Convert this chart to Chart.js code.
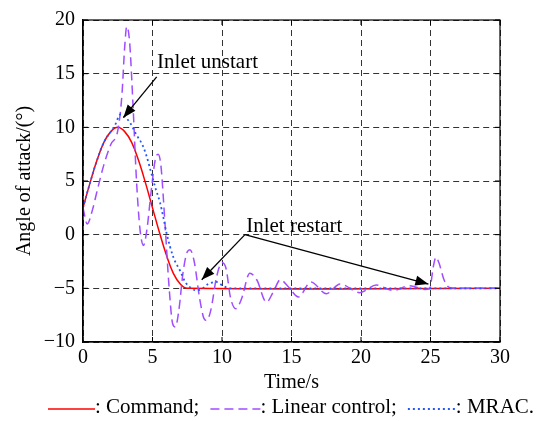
<!DOCTYPE html>
<html>
<head>
<meta charset="utf-8">
<script src="https://cdn.jsdelivr.net/npm/chart.js@4.4.1/dist/chart.umd.min.js"></script>
<style>
	html, body { margin: 0; padding: 0; background: #fff; }
</style>
</head>
<body>
<canvas id="aoaChart" width="541" height="421"></canvas>
<script>
		// 指令 (Command)
		const commandTime = [0, 0.5, 1, 1.5, 2, 2.5, 3, 3.5, 4, 4.5, 5, 5.5, 6, 6.5, 7, 7.5, 30]
		const commandAoa  = [2.5, 4.8, 6.9, 8.6, 9.6, 10, 9.6, 8.6, 6.9, 4.8, 2.5, 0.2, -1.9, -3.6, -4.6, -5, -5]

		// 線性控制 (Linear control)
		const linearTime = [0, 0.3, 0.7, 1.0, 1.5, 2.0, 2.5, 2.8, 3.0, 3.15, 3.35, 3.6, 3.85, 4.1, 4.35, 4.6, 4.9, 5.2, 5.4, 5.6, 5.9, 6.2, 6.45, 6.65,
			6.9, 7.2, 7.5, 7.7, 8.0, 8.4, 8.7, 8.9, 9.2, 9.6, 10.0, 10.3, 10.6, 11.0, 11.4, 12.0, 12.5, 13.2, 13.7, 14.2, 14.8, 15.5,
			16.4, 17.5, 18.5, 19.9, 21.1, 22.3, 23.5, 24.6, 24.95, 25.2, 25.4, 25.6, 26.0, 26.4, 27, 30]
		const linearAoa  = [2.5, 1.0, 2.4, 4.0, 6.5, 8.4, 9.7, 13, 17.5, 19.4, 18, 12, 5, 0.5, -1, 0.5, 4, 7, 7.5, 6.5, 1, -5, -8.3, -8.6,
			-7, -3.5, -1.6, -1.4, -2.5, -6, -7.8, -8.0, -7, -4, -2.6, -3.2, -5.8, -6.9, -6, -3.6, -4.2, -6.3, -5.3, -4.2, -4.9, -5.8,
			-4.4, -5.5, -4.6, -5.4, -4.7, -5.2, -4.75, -5.1, -5, -3, -2.1, -2.6, -4.3, -4.95, -5, -5]

		// MRAC
		const mracTime = [0, 0.5, 1, 1.5, 2, 2.3, 2.7, 3.0, 3.4, 3.8, 4.3, 4.6, 4.94, 5.2, 5.54, 5.8, 6.0, 6.5, 7.0, 7.35, 7.8, 8.2, 8.6, 9.0, 9.6, 10.0, 10.3, 10.8, 30]
		const mracAoa  = [2.5, 4.8, 6.9, 8.6, 9.6, 10.2, 11.2, 11.0, 10.4, 9.4, 8.3, 7.2, 5.6, 4.4, 3.0, 1.5, 0.2, -2.1, -3.4, -4.4, -5.0, -5.2, -5.0, -4.6, -4.4, -4.7, -4.9, -5, -5]

		// 標註 (資料座標)
		const unstartLabel = { text: 'Inlet unstart', x: 8.96, y: 15.49, from: [5.3, 14.7], to: [[2.9, 10.9]] }
		const restartLabel = { text: 'Inlet restart', x: 15.2, y: 0.22, from: [11.65, 0], to: [[8.54, -4.2], [24.85, -4.6]] }

		const seriesNames = ['Command;', 'Linear control;', 'MRAC.']

		const FONT = '"Liberation Serif", "Times New Roman", serif'

		function toPoints(xs, ys){
			return xs.map((x, i) => ({ x: x, y: ys[i] }))
		}

		class ChartUtil{
			static arrow(ctx, x1, y1, x2, y2){
				ctx.beginPath()
				ctx.moveTo(x1, y1)
				ctx.lineTo(x2, y2)
				ctx.stroke()
				let a = Math.atan2(y2 - y1, x2 - x1)
				let len = 13 , half = 5
				ctx.beginPath()
				ctx.moveTo(x2, y2)
				ctx.lineTo(x2 - len * Math.cos(a) + half * Math.sin(a), y2 - len * Math.sin(a) - half * Math.cos(a))
				ctx.lineTo(x2 - len * Math.cos(a) - half * Math.sin(a), y2 - len * Math.sin(a) + half * Math.cos(a))
				ctx.closePath()
				ctx.fill()
			}

			static drawAoaChart(canvasObj){
				const decor = {
					id: 'decor',
					afterDatasetsDraw(chart){
						const ctx = chart.ctx
						const { left, right, top, bottom } = chart.chartArea
						const xs = chart.scales.x , ys = chart.scales.y
						ctx.save()
						// 外框
						ctx.strokeStyle = '#000'
						ctx.lineWidth = 1.2
						ctx.strokeRect(left, top, right - left, bottom - top)
						// 內側刻度
						ctx.lineWidth = 1
						for (let v = 0; v <= 30; v += 5){
							let px = xs.getPixelForValue(v)
							ctx.beginPath()
							ctx.moveTo(px, bottom); ctx.lineTo(px, bottom - 5)
							ctx.moveTo(px, top); ctx.lineTo(px, top + 5)
							ctx.stroke()
						}
						for (let v = -10; v <= 20; v += 5){
							let py = ys.getPixelForValue(v)
							ctx.beginPath()
							ctx.moveTo(left, py); ctx.lineTo(left + 5, py)
							ctx.moveTo(right, py); ctx.lineTo(right - 5, py)
							ctx.stroke()
						}
						// 標註
						ctx.fillStyle = '#000'
						ctx.lineWidth = 1.3
						ctx.font = '21px ' + FONT
						ctx.textAlign = 'center'
						ctx.textBaseline = 'alphabetic'
						;[unstartLabel, restartLabel].forEach(lb => {
							ctx.fillText(lb.text, xs.getPixelForValue(lb.x), ys.getPixelForValue(lb.y))
							let fx = xs.getPixelForValue(lb.from[0]) , fy = ys.getPixelForValue(lb.from[1])
							lb.to.forEach(t => {
								ChartUtil.arrow(ctx, fx, fy, xs.getPixelForValue(t[0]), ys.getPixelForValue(t[1]))
							})
						})
						ctx.restore()
					},
					afterDraw(chart){
						// 自訂圖例
						const ctx = chart.ctx
						const ds = chart.data.datasets
						const sampleLen = [47, 50, 48]
						ctx.save()
						ctx.font = '21px ' + FONT
						ctx.textBaseline = 'middle'
						ctx.textAlign = 'left'
						ctx.fillStyle = '#000'
						let x = 48 , y = 407
						ds.forEach((d, i) => {
							ctx.strokeStyle = d.borderColor
							ctx.lineWidth = d.borderWidth
							ctx.setLineDash(d.borderDash || [])
							ctx.beginPath()
							ctx.moveTo(x, y + 2)
							ctx.lineTo(x + sampleLen[i], y + 2)
							ctx.stroke()
							x += sampleLen[i]
							let txt = ': ' + seriesNames[i]
							ctx.fillText(txt, x, y)
							x += ctx.measureText(txt).width + 11
						})
						ctx.restore()
					}
				}

				new Chart(canvasObj, {
					type: 'line',
					data: {
						datasets: [{
							label: 'Command',
							data: toPoints(commandTime, commandAoa),
							borderColor: '#ff0000',
							borderWidth: 1.5,
							cubicInterpolationMode: 'default',
							tension: 0.4,
							order: 3
						}, {
							label: 'Linear control',
							data: toPoints(linearTime, linearAoa),
							borderColor: '#a04dff',
							borderWidth: 1.5,
							borderDash: [9, 5],
							order: 2
						}, {
							label: 'MRAC',
							data: toPoints(mracTime, mracAoa),
							borderColor: '#2457ff',
							borderWidth: 1.8,
							borderDash: [2, 3],
							order: 1
						}]
					},
					options: {
						responsive: false,
						animation: false,
						devicePixelRatio: 1,
						layout: { padding: { left: 0, top: 16, right: 41, bottom: 0 } },
						elements: {
							point: { radius: 0 },
							line: { cubicInterpolationMode: 'monotone', fill: false }
						},
						plugins: { legend: { display: false }, tooltip: { enabled: false } },
						scales: {
							x: {
								type: 'linear', min: 0, max: 30,
								afterFit: (s) => { s.height = 79 },
								ticks: { stepSize: 5, color: '#000', padding: 4, font: { family: FONT, size: 20 } },
								grid: { color: '#333', lineWidth: 1, drawTicks: false },
								border: { display: true, color: '#000', width: 1.2, dash: [6, 4] },
								title: { display: true, text: 'Time/s', color: '#000', padding: { top: 0, bottom: 26 }, font: { family: FONT, size: 20 } }
							},
							y: {
								min: -10, max: 20,
								afterFit: (s) => { s.width = 83 },
								ticks: {
									stepSize: 5, color: '#000', padding: 8, font: { family: FONT, size: 20 },
									callback: (v) => v < 0 ? '\u2212' + Math.abs(v) : '' + v
								},
								grid: { color: '#333', lineWidth: 1, drawTicks: false },
								border: { display: true, color: '#000', width: 1.2, dash: [6, 4] },
								title: { display: true, text: 'Angle of attack/(°)', color: '#000', padding: { top: 13, bottom: 0 }, font: { family: FONT, size: 20 } }
							}
						}
					},
					plugins: [decor]
				})
			}
		}

		ChartUtil.drawAoaChart(document.getElementById('aoaChart'))
</script>
</body>
</html>
